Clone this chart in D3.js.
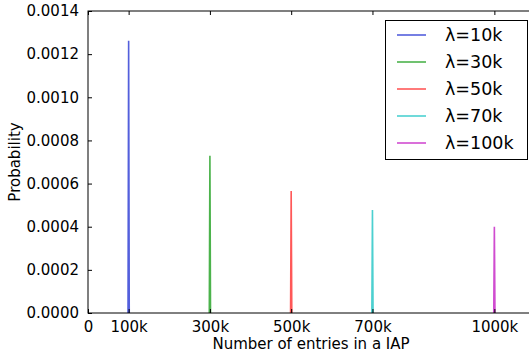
<!DOCTYPE html>
<html>
<head>
<meta charset="utf-8">
<script src="https://cdn.jsdelivr.net/npm/d3@7"></script>
<style>
  body { margin: 0; background: #fff; }
  svg { display: block; font-family: 'DejaVu Sans', sans-serif; }
</style>
</head>
<body>
<div id="chart"></div>
<script>
!(function () {
  'use strict';

  // data
  const labels = ['λ=10k', 'λ=30k', 'λ=50k', 'λ=70k', 'λ=100k'];
  const colors = ['#1a2ad0', '#109a10', '#ff2020', '#10c0c0', '#c010c0'];
  const centers = [100000, 300000, 500000, 700000, 1000000];
  const peaks = [0.001262, 0.000729, 0.000565, 0.000477, 0.000400];
  const xTicks = [0, 100000, 300000, 500000, 700000, 1000000];
  const xTickLabels = ['0', '100k', '300k', '500k', '700k', '1000k'];
  const yTicks = [0, 0.0002, 0.0004, 0.0006, 0.0008, 0.0010, 0.0012, 0.0014];

  const series = labels.map((l, i) => ({
    label: l,
    color: colors[i],
    points: [
      [centers[i] - 1500, 0],
      [centers[i], peaks[i]],
      [centers[i] + 1500, 0]
    ]
  }));

  const W = 529, H = 354;
  const m = { left: 88, top: 11, bottom: 313, right: 535 };

  const svg = d3.select('#chart').append('svg')
    .attr('width', W).attr('height', H);

  const x = d3.scaleLinear().domain([0, 1100000]).range([m.left, m.right]);
  const y = d3.scaleLinear().domain([0, 0.0014]).range([m.bottom, m.top]);

  const line = d3.line().x(d => x(d[0])).y(d => y(d[1]));

  svg.selectAll('path.series')
    .data(series)
    .enter()
    .append('path')
    .attr('class', 'series')
    .attr('d', d => line(d.points))
    .attr('fill', 'none')
    .attr('stroke', d => d.color)
    .attr('stroke-width', 1.6)
    .attr('stroke-opacity', 0.75);

  // axes, classic inward ticks on all four sides
  const xAxisB = d3.axisBottom(x).tickValues(xTicks)
    .tickFormat((d, i) => xTickLabels[i]).tickSizeInner(-4).tickSizeOuter(0).tickPadding(8);
  const xAxisT = d3.axisTop(x).tickValues(xTicks).tickFormat('').tickSizeInner(-4).tickSizeOuter(0);
  const yAxisL = d3.axisLeft(y).tickValues(yTicks)
    .tickFormat(d3.format('.4f')).tickSizeInner(-4).tickSizeOuter(0).tickPadding(9);
  const yAxisR = d3.axisRight(y).tickValues(yTicks).tickFormat('').tickSizeInner(-4).tickSizeOuter(0);

  const styleAxis = g => {
    g.select('.domain').remove();
    g.selectAll('line').attr('stroke', '#000');
    g.selectAll('text').attr('fill', '#000').style('font-size', '15px')
      .style('font-family', "'DejaVu Sans', sans-serif");
  };

  svg.append('g').attr('transform', `translate(0,${m.bottom})`).call(xAxisB).call(styleAxis);
  svg.append('g').attr('transform', `translate(0,${m.top})`).call(xAxisT).call(styleAxis);
  svg.append('g').attr('transform', `translate(${m.left},0)`).call(yAxisL).call(styleAxis);
  svg.append('g').attr('transform', `translate(${m.right},0)`).call(yAxisR).call(styleAxis);

  // frame
  svg.append('rect')
    .attr('x', m.left).attr('y', m.top)
    .attr('width', m.right - m.left).attr('height', m.bottom - m.top)
    .attr('fill', 'none').attr('stroke', '#000').attr('stroke-width', 1);

  // axis titles
  svg.append('text')
    .attr('x', 311).attr('y', 349)
    .attr('text-anchor', 'middle')
    .style('font-size', '15px')
    .text('Number of entries in a IAP');

  svg.append('text')
    .attr('transform', `translate(20,${(m.top + m.bottom) / 2}) rotate(-90)`)
    .attr('text-anchor', 'middle')
    .style('font-size', '15px')
    .text('Probability');

  // legend
  const lg = svg.append('g');
  lg.append('rect')
    .attr('x', 385.5).attr('y', 20.5).attr('width', 142).attr('height', 139)
    .attr('fill', '#fff').attr('stroke', '#000').attr('stroke-width', 1);

  const item = lg.selectAll('g.item')
    .data(series)
    .enter()
    .append('g')
    .attr('class', 'item')
    .attr('transform', (d, i) => `translate(0,${35 + i * 27})`);

  item.append('line')
    .attr('x1', 397).attr('x2', 426)
    .attr('stroke', d => d.color).attr('stroke-width', 1.6).attr('stroke-opacity', 0.75);

  item.append('text')
    .attr('x', 445).attr('y', 6)
    .style('font-size', '17.5px')
    .text(d => d.label);
}());
</script>
</body>
</html>
